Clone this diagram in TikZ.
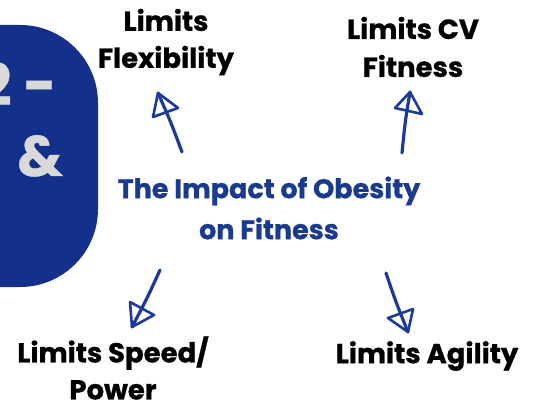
\documentclass[tikz,border=0pt]{standalone}
\usepackage{fontspec}
\usetikzlibrary{calc}
\setmainfont{Poppins}[BoldFeatures={FakeBold=0.8}]
\begin{document}
\begin{tikzpicture}[x=1pt,y=-1pt,
  label/.style={font=\bfseries\fontsize{27.5}{37}\selectfont, align=center, text=black, inner sep=0pt},
  title/.style={font=\bfseries\fontsize{27}{41}\selectfont, align=center, text=titleblue, inner sep=0pt},
  badge/.style={font=\bfseries\fontsize{57}{70}\selectfont, text=badgegray, inner sep=0pt, anchor=base east},
  sketch/.style={draw=arrowblue, line width=3.2pt, line cap=round, line join=round},
  sketchhead/.style={draw=arrowblue, line width=2.6pt, line cap=round, line join=round}]
\definecolor{panelblue}{HTML}{13318A}
\definecolor{titleblue}{HTML}{1A3A8F}
\definecolor{arrowblue}{HTML}{1B3A9C}
\definecolor{badgegray}{HTML}{D9D9D9}
\useasboundingbox (0,0) rectangle (537,403);
\begin{scope}
  \clip (0,0) rectangle (537,403);
  % side panel
  \fill[panelblue, rounded corners=78pt] (-120,25) rectangle (98,287);
  \node[badge] (b1) at (57,105) {2 -};
  \node[badge] (b2) at (63,176) {s\hspace{9pt} \&};
\end{scope}

% centre heading
\node[title] (centre) at (269,208) {The Impact of Obesity\\on Fitness};

% outcome labels
\node[label] (flex) at (166,42) {Limits\\Flexibility};
\node[label, font=\bfseries\fontsize{27.5}{38}\selectfont] (cv) at (413,47) {Limits CV\\Fitness};
\node[label] (speed) at (113,368) {Limits Speed/\\Power};
\node[label] (agil) at (427,356) {Limits Agility};

% hand-drawn arrows: tail, tip and the two head corners
\coordinate (t1) at (182,152); \coordinate (h1) at (158,93);
\coordinate (l1) at (153,117); \coordinate (r1) at (178,108);
\coordinate (t2) at (402,153); \coordinate (h2) at (410,92);
\coordinate (l2) at (395,108); \coordinate (r2) at (422,114);
\coordinate (t3) at (160,270); \coordinate (h3) at (132,327);
\coordinate (l3) at (130,302); \coordinate (r3) at (154,315);
\coordinate (t4) at (386,273); \coordinate (h4) at (408,332);
\coordinate (l4) at (388,318); \coordinate (r4) at (413,309);

\draw[sketch] (t1) .. controls ($(t1)!0.5!(h1)+(1,0)$) .. (h1);
\draw[sketchhead] (h1) -- (l1) -- (r1) -- cycle;
\draw[sketch] (t2) .. controls ($(t2)!0.5!(h2)+(-1,0)$) .. (h2);
\draw[sketchhead] (h2) -- (l2) -- (r2) -- cycle;
\draw[sketch] (t3) .. controls ($(t3)!0.5!(h3)+(1,0)$) .. (h3);
\draw[sketchhead] (h3) -- (l3) -- (r3) -- cycle;
\draw[sketch] (t4) .. controls ($(t4)!0.5!(h4)+(-1,0)$) .. (h4);
\draw[sketchhead] (h4) -- (l4) -- (r4) -- cycle;
\end{tikzpicture}
\end{document}
